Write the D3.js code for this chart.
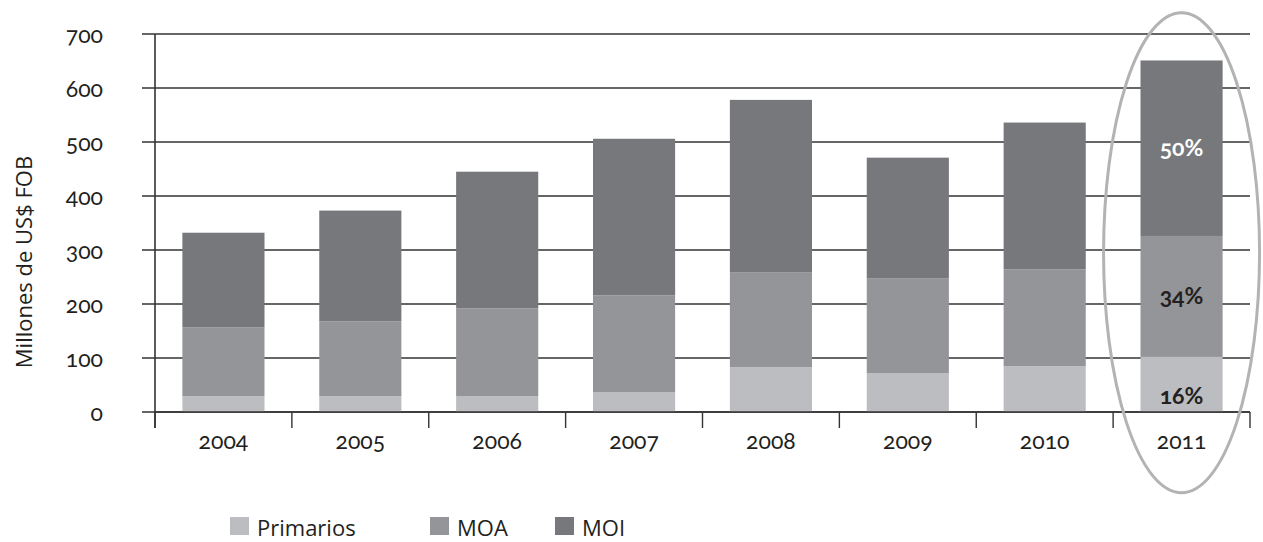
<!DOCTYPE html>
<html>
<head>
<meta charset="utf-8">
<script src="https://cdn.jsdelivr.net/npm/d3@7"></script>
<style>
  body { margin: 0; background: #fff; }
  text { fill: #231f20; }
  .num { font-family: Lato, "Open Sans", sans-serif; font-variant-numeric: oldstyle-nums; font-feature-settings: "onum"; }
  .lbl { font-family: "Open Sans", "Noto Sans", sans-serif; }
</style>
</head>
<body>
<div id="chart"></div>
<script>
// data (millones de US$ FOB)
const years = ["2004", "2005", "2006", "2007", "2008", "2009", "2010", "2011"]
const primarios = [29, 29, 29, 37, 83, 72, 85, 102]
const moa = [128, 139, 163, 179, 176, 175, 179, 224]
const moi = [175, 205, 253, 290, 319, 224, 272, 325]
const yTicks = [0, 100, 200, 300, 400, 500, 600, 700]
const seriesNames = ["Primarios", "MOA", "MOI"]
const colors = ["#bcbdc0", "#949599", "#77787c"]
const pctLabels = ["16%", "34%", "50%"]

const W = 1263, H = 542
const margin = { top: 34, right: 13, bottom: 130, left: 155 }
const width = W - margin.left - margin.right
const height = H - margin.top - margin.bottom

const svg = d3.select("#chart").append("svg")
    .attr("width", W)
    .attr("height", H)

const g = svg.append("g")
    .attr("transform", "translate(" + margin.left + "," + margin.top + ")")

const data = years.map(function(y, i) {
  return { year: y, Primarios: primarios[i], MOA: moa[i], MOI: moi[i] }
})
const stacked = d3.stack().keys(seriesNames)(data)

const x = d3.scaleBand().domain(years).range([0, width]).paddingInner(0.4).paddingOuter(0.2)
const y = d3.scaleLinear().domain([0, 700]).range([height, 0])

// gridlines
g.append("g")
  .selectAll("line")
  .data(yTicks)
  .join("line")
    .attr("x1", -13)
    .attr("x2", width)
    .attr("y1", d => y(d))
    .attr("y2", d => y(d))
    .attr("stroke", "#333")
    .attr("stroke-width", 1.6)

// bars
g.append("g")
  .selectAll("g")
  .data(stacked)
  .join("g")
    .attr("fill", (d, i) => colors[i])
  .selectAll("rect")
  .data(d => d)
  .join("rect")
    .attr("x", d => x(d.data.year))
    .attr("y", d => y(d[1]))
    .attr("height", d => y(d[0]) - y(d[1]))
    .attr("width", x.bandwidth())

// x axis with ticks between bars
const step = x.step()
const xAxis = g.append("g").attr("transform", "translate(0," + height + ")")
xAxis.append("line").attr("x1", 0).attr("x2", width).attr("stroke", "#333").attr("stroke-width", 1.6)
xAxis.selectAll(".tk")
  .data(d3.range(years.length + 1))
  .join("line")
    .attr("class", "tk")
    .attr("x1", d => Math.min(d * step, width))
    .attr("x2", d => Math.min(d * step, width))
    .attr("y1", 0)
    .attr("y2", 16)
    .attr("stroke", "#333")
    .attr("stroke-width", 1.4)
xAxis.selectAll("text")
  .data(years)
  .join("text")
    .attr("class", "num")
    .attr("x", d => x(d) + x.bandwidth() / 2)
    .attr("y", 37)
    .attr("text-anchor", "middle")
    .style("font-size", "23px")
    .text(d => d)

// y axis
g.append("line")
    .attr("x1", 0).attr("x2", 0)
    .attr("y1", 0).attr("y2", height + 16)
    .attr("stroke", "#333")
    .attr("stroke-width", 1.6)
g.append("g")
  .selectAll("text")
  .data(yTicks)
  .join("text")
    .attr("class", "num")
    .attr("x", -52)
    .attr("y", d => y(d) + 9)
    .attr("text-anchor", "end")
    .style("font-size", "23px")
    .text(d => d)

svg.append("text")
    .attr("class", "lbl")
    .attr("transform", "translate(32,262) rotate(-90)")
    .attr("text-anchor", "middle")
    .style("font-size", "22px")
    .text("Millones de US$ FOB")

// percentage labels on 2011
const last = years.length - 1
g.append("g")
  .selectAll("text")
  .data(stacked)
  .join("text")
    .attr("class", "num")
    .attr("x", x(years[last]) + x.bandwidth() / 2)
    .attr("y", (d, i) => i === 0 ? y(d[last][0]) - 8 : y((d[last][0] + d[last][1]) / 2) + 8)
    .attr("text-anchor", "middle")
    .style("font-size", "23px")
    .style("font-weight", "bold")
    .style("fill", (d, i) => i === 2 ? "#fff" : "#231f20")
    .text((d, i) => pctLabels[i])

// ellipse around 2011
g.append("ellipse")
    .attr("cx", x(years[last]) + x.bandwidth() / 2)
    .attr("cy", y(295))
    .attr("rx", 78)
    .attr("ry", 240)
    .attr("fill", "none")
    .attr("stroke", "#b3b3b3")
    .attr("stroke-width", 3)

// legend
const legendX = [230, 430, 555]
const legend = svg.append("g")
  .selectAll("g")
  .data(seriesNames)
  .join("g")
    .attr("transform", (d, i) => "translate(" + legendX[i] + ",517)")
legend.append("rect").attr("width", 19).attr("height", 18).attr("fill", (d, i) => colors[i])
legend.append("text")
    .attr("class", "lbl")
    .attr("x", 27)
    .attr("y", 19)
    .style("font-size", "22px")
    .text(d => d)
</script>
</body>
</html>
